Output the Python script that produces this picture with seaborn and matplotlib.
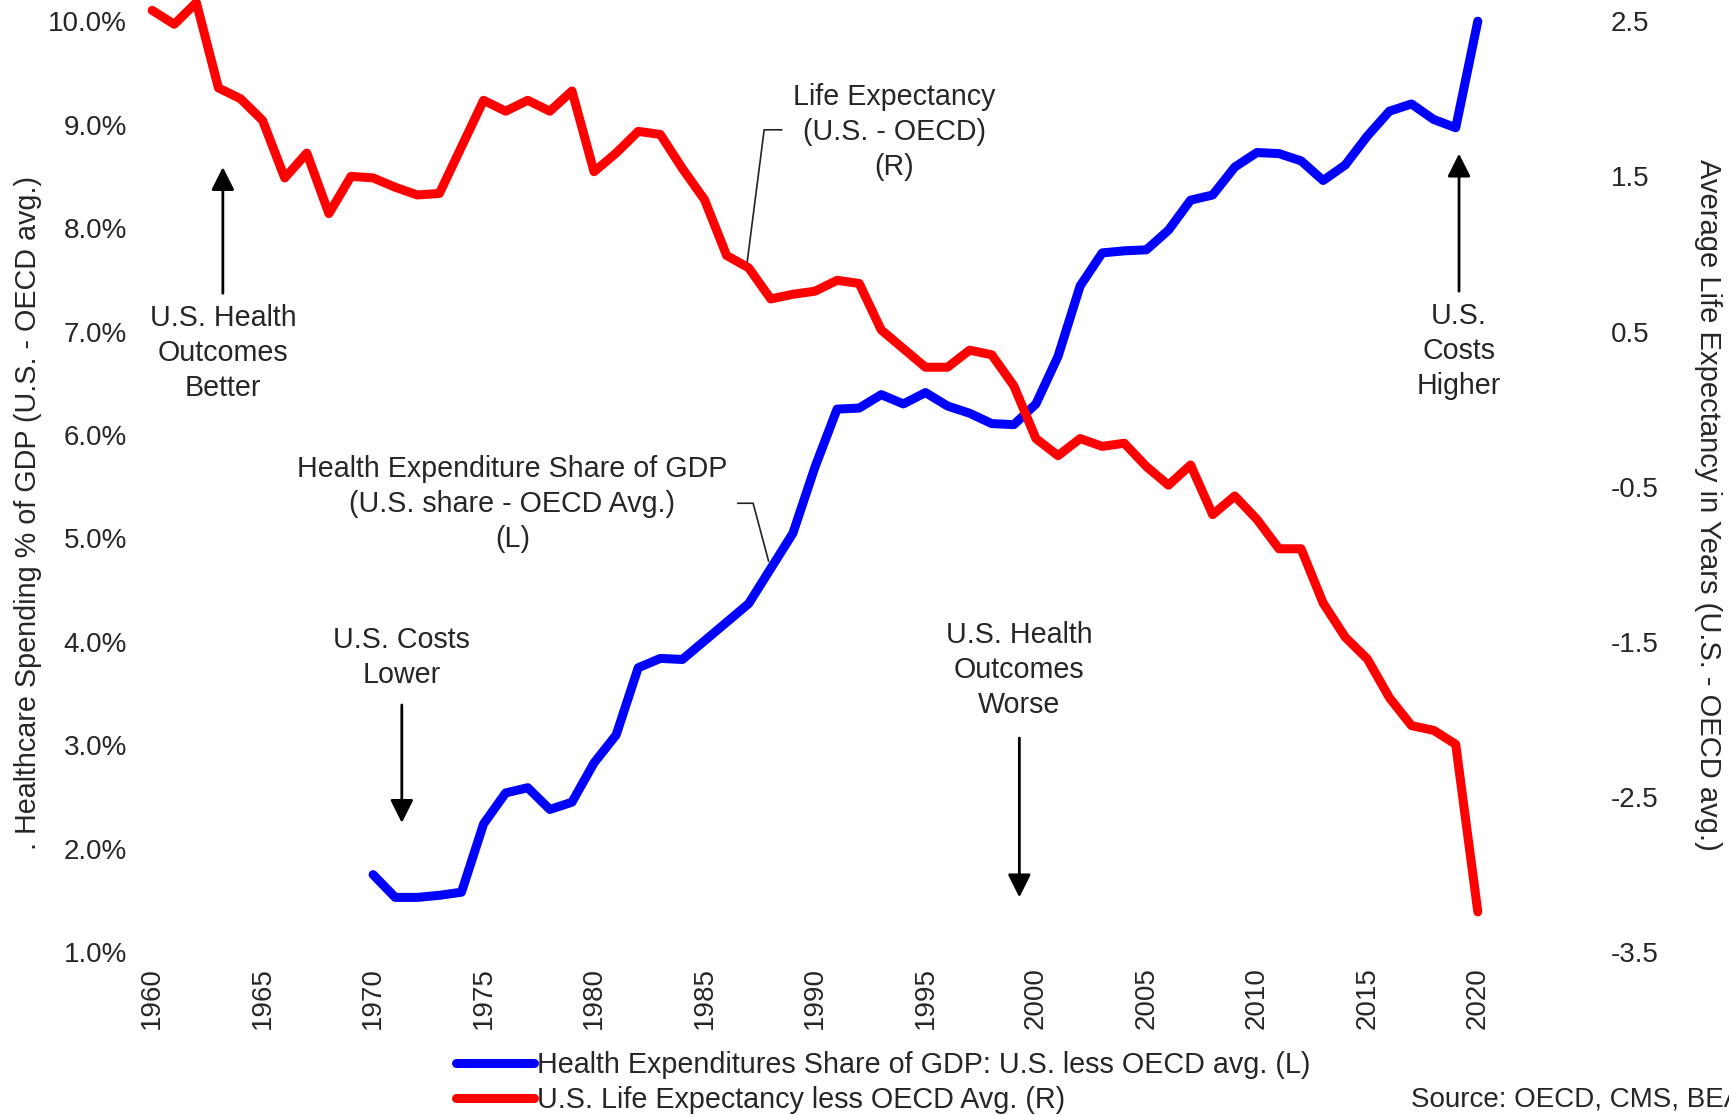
import seaborn as sns
import matplotlib.pyplot as plt
import pandas as pd
from matplotlib.ticker import FuncFormatter

# Health expenditure share of GDP, U.S. less OECD avg (left axis, %)
spend_years = list(range(1970, 2021))
spend_gap = [1.75, 1.53, 1.53, 1.55, 1.58, 2.24, 2.54, 2.59, 2.38, 2.45,
             2.83, 3.10, 3.75, 3.84, 3.83, 4.01, 4.19, 4.37, 4.71, 5.05,
             5.69, 6.25, 6.26, 6.39, 6.30, 6.41, 6.28, 6.21, 6.11, 6.10,
             6.30, 6.76, 7.44, 7.76, 7.78, 7.79, 7.98, 8.27, 8.32, 8.59,
             8.73, 8.72, 8.65, 8.46, 8.61, 8.89, 9.13, 9.20, 9.05, 8.97,
             10.0]

# Life expectancy, U.S. less OECD avg (right axis, years)
life_years = list(range(1960, 2021))
life_gap = [2.57, 2.48, 2.62, 2.07, 2.00, 1.86, 1.49, 1.65, 1.26, 1.50,
            1.49, 1.43, 1.38, 1.39, 1.69, 1.99, 1.92, 1.99, 1.92, 2.05,
            1.53, 1.65, 1.79, 1.77, 1.55, 1.35, 0.99, 0.91, 0.71, 0.74,
            0.76, 0.83, 0.81, 0.51, 0.39, 0.27, 0.27, 0.38, 0.35, 0.15,
            -0.19, -0.30, -0.19, -0.24, -0.22, -0.37, -0.49, -0.36, -0.68, -0.56,
            -0.71, -0.90, -0.90, -1.25, -1.47, -1.61, -1.86, -2.04, -2.07, -2.16,
            -3.24]

year_ticks = list(range(1960, 2021, 5))
left_ticks = [1, 2, 3, 4, 5, 6, 7, 8, 9, 10]
right_ticks = [-3.5, -2.5, -1.5, -0.5, 0.5, 1.5, 2.5]

spend_label = "Health Expenditures Share of GDP: U.S. less OECD avg. (L)"
life_label = "U.S. Life Expectancy less OECD Avg. (R)"

df_spend = pd.DataFrame({"year": spend_years, "gap": spend_gap})
df_life = pd.DataFrame({"year": life_years, "gap": life_gap})

sns.set_style("white")
plt.rcParams["font.family"] = ["Liberation Sans", "DejaVu Sans"]
FS = 20
NOTE_FS = 20.6

fig = plt.figure(figsize=(17.29, 11.15), dpi=100)
ax = fig.add_axes([0.088, 0.146, 0.837, 0.835])
ax2 = ax.twinx()

line_kw = dict(lw=6.5, clip_on=False, solid_capstyle="round", solid_joinstyle="round")
sns.lineplot(data=df_spend, x="year", y="gap", color="#0000FF", ax=ax,
             label=spend_label, legend=False, **line_kw)
sns.lineplot(data=df_life, x="year", y="gap", color="#FF0000", ax=ax2,
             label=life_label, legend=False, **line_kw)

ax.set_xlim(1960, 2025.5)
ax.set_ylim(1, 10)
ax2.set_ylim(-3.5, 2.5)
ax.set_xticks(year_ticks)
ax.set_xticklabels([str(y) for y in year_ticks], rotation=90)
ax.set_yticks(left_ticks)
ax.yaxis.set_major_formatter(FuncFormatter(lambda v, p: f"{v:.1f}%"))
ax2.set_yticks(right_ticks)
ax2.yaxis.set_major_formatter(FuncFormatter(lambda v, p: f"{v:.1f}"))
ax.tick_params(axis="x", length=0, pad=11, labelsize=FS)
ax.tick_params(axis="y", length=0, pad=18, labelsize=FS)
ax2.tick_params(axis="y", length=0, pad=8, labelsize=FS)
ax.set_xlabel("")
ax.set_ylabel("")
ax2.set_ylabel("")
for a in (ax, ax2):
    for s in a.spines.values():
        s.set_visible(False)

fig.text(0.016, 0.54, ". Healthcare Spending % of GDP (U.S. - OECD avg.)",
         rotation=90, ha="center", va="center", fontsize=20.7)
fig.text(0.988, 0.547, "Average Life Expectancy in Years (U.S. - OECD avg.)",
         rotation=270, ha="center", va="center", fontsize=21)

# text annotations with arrows (positions on left axis scale)
arrow_kw = dict(arrowstyle="-|>,head_length=0.7,head_width=0.35", color="black",
                lw=2, shrinkA=0, shrinkB=0, mutation_scale=20)
notes = [
    ("U.S. Health\nOutcomes\nBetter", (1963.2, 6.79), (1963.2, 7.37), (1963.2, 8.59)),
    ("U.S. Costs\nLower", (1971.3, 3.85), (1971.3, 3.39), (1971.3, 2.25)),
    ("U.S. Health\nOutcomes\nWorse", (1999.25, 3.73), (1999.25, 3.07), (1999.25, 1.53)),
    ("U.S.\nCosts\nHigher", (2019.15, 6.81), (2019.15, 7.39), (2019.15, 8.72)),
]
for txt, pos, tail, tip in notes:
    ax.text(pos[0], pos[1], txt, ha="center", va="center", fontsize=NOTE_FS,
            linespacing=1.32)
    ax.annotate("", xy=tip, xytext=tail, arrowprops=arrow_kw)

# series labels with leader lines
ax.text(1993.6, 8.93, "Life Expectancy\n(U.S. - OECD)\n(R)", ha="center", va="center",
        fontsize=NOTE_FS, linespacing=1.32)
ax.plot([1988.5, 1987.7, 1986.9], [8.95, 8.95, 7.62], color="#222222", lw=1.2)
ax.text(1976.3, 5.33, "Health Expenditure Share of GDP\n(U.S. share - OECD Avg.)\n(L)",
        ha="center", va="center", fontsize=NOTE_FS, linespacing=1.32)
ax.plot([1986.5, 1987.2, 1987.9], [5.34, 5.34, 4.78], color="#222222", lw=1.2)

handles = ax.get_lines()[:1] + ax2.get_lines()[:1]
fig.legend(handles, [spend_label, life_label], loc="upper left",
           bbox_to_anchor=(0.264, 0.057), frameon=False, fontsize=20.7,
           handlelength=2.7, handletextpad=0.1, labelspacing=0.22,
           borderpad=0, borderaxespad=0)
fig.text(0.816, 0.014, "Source: OECD, CMS, BEA", ha="left", va="center", fontsize=FS)

fig.savefig("out.png", dpi=100)
